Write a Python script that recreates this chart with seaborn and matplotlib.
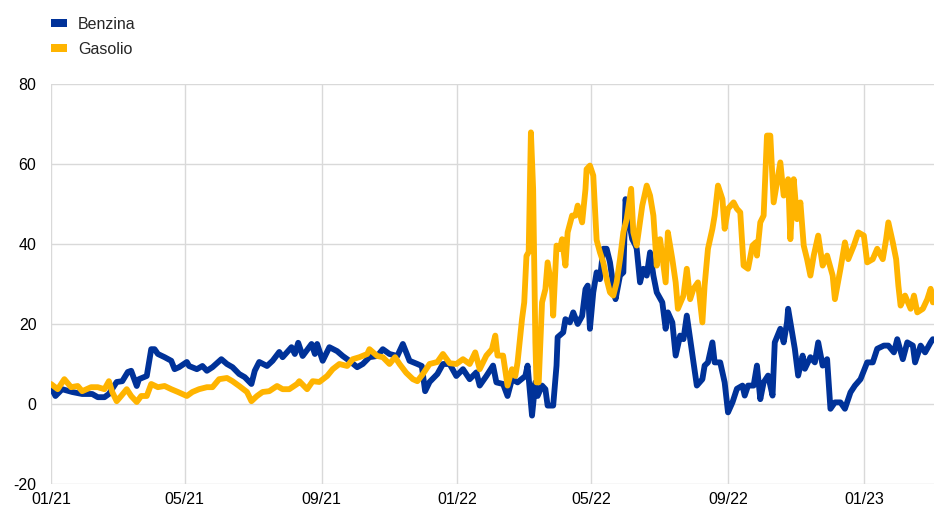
import numpy as np
import pandas as pd
import matplotlib
matplotlib.use("Agg")
import matplotlib.pyplot as plt
import matplotlib.dates as mdates
from matplotlib.patches import Patch
import seaborn as sns

# Days elapsed since 1 January 2021 and margin values for petrol (Benzina)
benzina_day = [0, 4, 10, 19, 28, 37, 42, 48, 52, 59, 64, 69, 72, 77, 79, 86, 87, 90, 93, 96,
               102, 108, 111, 115, 122, 124, 131, 136, 140, 145, 153, 158, 163, 169, 174, 180,
               183, 187, 194, 199, 205, 208, 216, 219, 222, 226, 234, 237, 239, 244, 250, 257,
               262, 268, 275, 280, 286, 293, 298, 304, 311, 316, 322, 329, 333, 336, 340, 347,
               352, 358, 364, 370, 376, 382, 385, 391, 397, 400, 406, 410, 414, 419, 426, 428,
               432, 435, 437, 441, 444, 446, 451, 454, 455, 460, 462, 466, 469, 473, 477, 480,
               482, 484, 487, 490, 493, 496, 499, 502, 505, 507, 511, 514, 516, 518, 522, 525,
               526, 529, 532, 535, 538, 541, 544, 549, 552, 554, 558, 561, 565, 568, 571, 574,
               577, 580, 585, 587, 590, 594, 596, 601, 605, 608, 612, 616, 621, 623, 626, 631,
               634, 637, 640, 644, 648, 650, 655, 658, 661, 662, 666, 668, 671, 675, 677, 682,
               686, 689, 693, 697, 700, 704, 709, 713, 718, 722, 727, 733, 738, 742, 748, 752,
               757, 760, 765, 769, 774, 776, 781, 785, 790, 792]
benzina_val = [4.2, 2.0, 3.7, 3.0, 2.5, 2.5, 1.7, 1.7, 2.5, 5.5, 5.7, 8.0, 8.3, 4.5, 6.2, 7.0, 8.7,
               13.7, 13.7, 12.5, 11.7, 10.8, 8.7, 9.2, 10.5, 9.5, 8.7, 9.5, 8.3, 9.2, 11.2, 10.0,
               9.2, 7.5, 6.7, 5.0, 8.3, 10.5, 9.5, 10.8, 13.0, 11.7, 14.2, 12.5, 15.3, 12.0, 15.0,
               12.5, 15.0, 10.8, 14.2, 13.2, 12.0, 10.8, 9.2, 10.0, 11.7, 12.0, 13.7, 12.5, 12.0,
               15.0, 10.8, 10.0, 9.5, 3.2, 5.5, 7.5, 10.0, 10.0, 7.0, 8.7, 6.2, 7.9, 4.6, 7.0, 9.6,
               5.4, 5.0, 2.0, 6.2, 5.4, 7.0, 9.6, -2.9, 5.4, 2.0, 4.6, 3.7, -0.4, -0.4, 9.6, 16.7,
               17.9, 21.2, 20.4, 22.9, 20.0, 22.0, 28.7, 29.6, 18.8, 27.9, 32.9, 31.2, 38.8, 38.8,
               35.4, 29.6, 26.2, 32.1, 32.9, 51.2, 47.1, 41.2, 39.6, 38.8, 30.4, 33.8, 32.1, 37.9,
               32.1, 27.9, 25.4, 18.8, 22.9, 20.4, 12.1, 17.1, 16.2, 22.1, 16.2, 10.4, 4.6, 6.2,
               9.6, 10.4, 15.4, 10.4, 10.4, 5.4, -2.1, 0.4, 3.8, 4.6, 2.1, 4.6, 4.6, 9.6, 1.2,
               5.4, 7.1, 2.1, 15.4, 18.8, 15.4, 20.4, 23.8, 17.1, 13.8, 7.1, 12.1, 8.8, 11.7,
               10.4, 15.4, 9.6, 11.2, -1.2, 0.4, 0.4, -1.2, 2.9, 4.6, 6.2, 10.4, 10.4, 13.8, 14.6,
               14.6, 12.9, 16.2, 11.2, 15.4, 14.6, 10.4, 14.6, 12.9, 15.4, 16.2]

# Days elapsed since 1 January 2021 and margin values for diesel (Gasolio)
gasolio_day = [0, 6, 12, 18, 24, 28, 36, 42, 48, 52, 55, 59, 63, 68, 72, 77, 81, 86, 90, 96,
               102, 108, 114, 122, 127, 133, 140, 145, 151, 158, 163, 169, 176, 180, 185, 190,
               196, 203, 208, 214, 221, 223, 230, 235, 241, 248, 253, 259, 266, 271, 277, 284,
               286, 293, 298, 304, 309, 313, 319, 325, 329, 334, 340, 347, 352, 358, 364, 370,
               376, 381, 385, 391, 396, 399, 401, 406, 410, 414, 417, 419, 423, 425, 427, 429,
               431, 433, 435, 436, 438, 441, 444, 446, 450, 451, 454, 457, 459, 462, 464, 468,
               471, 473, 477, 480, 481, 484, 487, 490, 493, 496, 499, 502, 505, 508, 511, 514,
               517, 521, 523, 526, 531, 535, 538, 541, 544, 547, 552, 554, 558, 561, 563, 568,
               571, 574, 577, 581, 585, 587, 590, 594, 596, 599, 603, 605, 608, 613, 616, 619,
               622, 626, 630, 633, 634, 637, 640, 643, 646, 649, 652, 655, 658, 662, 664, 667,
               670, 673, 676, 679, 682, 685, 689, 693, 697, 702, 704, 709, 713, 716, 721, 725,
               730, 733, 738, 742, 747, 750, 752, 756, 759, 761, 763, 767, 772, 775, 778, 783,
               787, 790, 792]
gasolio_val = [5.0, 3.7, 6.2, 4.2, 4.5, 3.2, 4.2, 4.2, 3.7, 5.7, 3.0, 0.7, 2.0, 3.7, 2.0, 0.5,
               2.0, 2.0, 5.0, 4.2, 4.5, 3.7, 3.0, 2.0, 3.0, 3.7, 4.2, 4.2, 6.2, 6.5, 5.7, 4.5,
               3.0, 0.7, 2.0, 3.0, 3.2, 4.5, 3.7, 3.7, 5.0, 5.7, 3.7, 5.7, 5.5, 7.0, 8.7, 10.0,
               9.5, 11.2, 11.7, 12.5, 13.7, 12.0, 11.7, 10.0, 11.7, 10.0, 7.8, 6.2, 5.7, 7.5,
               10.0, 10.5, 12.5, 10.2, 10.0, 11.2, 10.0, 12.9, 8.7, 12.1, 13.7, 17.1, 12.1, 12.1,
               4.6, 8.7, 7.0, 10.4, 21.2, 25.4, 37.0, 38.0, 67.9, 53.7, 15.4, 5.4, 5.4, 25.4,
               28.7, 35.4, 28.7, 22.1, 39.6, 38.7, 41.2, 34.6, 42.9, 47.1, 47.1, 49.6, 45.4, 53.7,
               58.7, 59.6, 57.1, 41.0, 37.9, 35.4, 31.2, 27.9, 27.1, 30.4, 36.2, 42.9, 46.2, 53.8,
               42.9, 39.6, 49.6, 54.6, 52.1, 47.1, 34.6, 41.2, 30.4, 42.9, 36.2, 30.4, 23.8, 27.1,
               33.8, 26.2, 28.8, 30.4, 20.4, 29.6, 38.8, 43.8, 47.1, 54.6, 51.2, 43.8, 48.8, 50.4,
               48.8, 47.9, 34.6, 33.8, 39.6, 40.4, 37.1, 45.4, 47.1, 67.1, 67.1, 50.4, 55.4, 60.4,
               52.1, 56.2, 41.2, 56.2, 46.2, 50.4, 39.6, 36.2, 32.1, 37.1, 42.1, 34.6, 37.1, 32.1,
               26.2, 33.8, 40.4, 36.2, 39.6, 42.9, 42.1, 35.4, 36.2, 38.8, 36.2, 41.2, 45.4, 40.4,
               36.2, 29.6, 24.6, 27.1, 23.8, 27.1, 22.9, 23.8, 26.2, 28.8, 25.4]

series_names = ["Benzina", "Gasolio"]
series_colors = ["#003299", "#FFB400"]
y_ticks = [-20, 0, 20, 40, 60, 80]
x_tick_dates = ["2021-01-01", "2021-05-01", "2021-09-01", "2022-01-01",
                "2022-05-01", "2022-09-01", "2023-01-01"]

origin = pd.Timestamp("2021-01-01")
frames = []
for name, days, vals in [("Benzina", benzina_day, benzina_val),
                         ("Gasolio", gasolio_day, gasolio_val)]:
    frames.append(pd.DataFrame({
        "data": origin + pd.to_timedelta(days, unit="D"),
        "valore": vals,
        "serie": name,
    }))
df = pd.concat(frames, ignore_index=True)

sns.set_style("white")
plt.rcParams["font.family"] = ["Liberation Sans", "DejaVu Sans"]
plt.rcParams["axes.unicode_minus"] = False

fig = plt.figure(figsize=(9.34, 5.12), dpi=100)
ax = fig.add_axes([0.0546, 0.0547, 0.9454, 0.7813])

sns.lineplot(data=df, x="data", y="valore", hue="serie", hue_order=series_names,
             palette=series_colors, linewidth=4.2, ax=ax, legend=False, estimator=None,
             sort=True)
for line in ax.get_lines():
    line.set_solid_joinstyle("round")
    line.set_solid_capstyle("round")

ax.set_xlim(pd.Timestamp("2021-01-01"), pd.Timestamp("2023-03-05"))
ax.set_ylim(-20, 80)
ax.set_yticks(y_ticks)
ax.set_xticks(pd.to_datetime(x_tick_dates))
ax.xaxis.set_major_formatter(mdates.DateFormatter("%m/%y"))
ax.grid(True, color="#d9d9d9", linewidth=1.0)
ax.set_axisbelow(True)
for s in ax.spines.values():
    s.set_visible(False)
ax.tick_params(axis="both", length=0, labelsize=11.5, colors="#000000")
ax.tick_params(axis="y", pad=10.5)
ax.tick_params(axis="x", pad=6)
ax.set_xlabel("")
ax.set_ylabel("")

handles = [Patch(facecolor=c, edgecolor="none", label=n)
           for n, c in zip(series_names, series_colors)]
fig.legend(handles=handles, loc="upper left", bbox_to_anchor=(0.0546, 0.967),
           frameon=False, fontsize=11.5, handlelength=1.0, handleheight=0.33,
           handletextpad=0.7, labelspacing=0.62, borderpad=0, borderaxespad=0)

fig.savefig("out.png", dpi=100)
